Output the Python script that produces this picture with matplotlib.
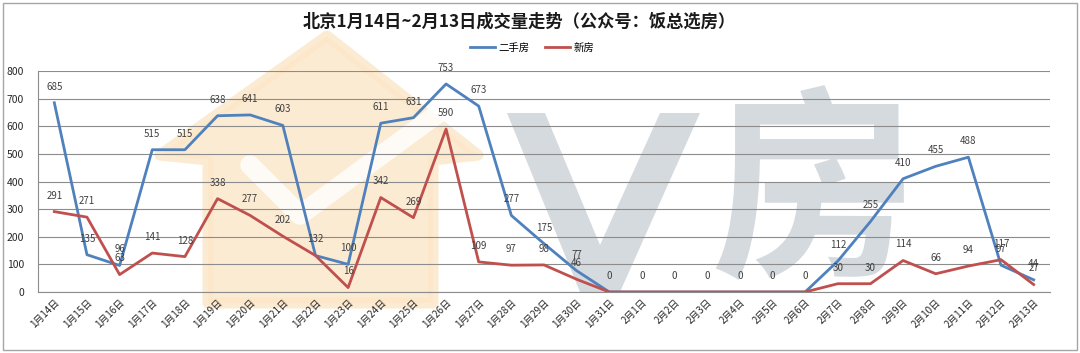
import matplotlib.pyplot as plt
from matplotlib.patches import Polygon, Rectangle
import numpy as np

plt.rcParams['font.family'] = ['Noto Sans CJK SC', 'DejaVu Sans']

# ── data ─────────────────────────────────────────────
dates = [f"1月{d}日" for d in range(14, 32)] + [f"2月{d}日" for d in range(1, 14)]
second_hand = [685, 135, 96, 515, 515, 638, 641, 603, 132, 100, 611, 631, 753, 673,
               277, 175, 77, 0, 0, 0, 0, 0, 0, 0, 112, 255, 410, 455, 488, 97, 44]
new_house = [291, 271, 63, 141, 128, 338, 277, 202, 132, 16, 342, 269, 590, 109,
             97, 98, 46, 0, 0, 0, 0, 0, 0, 0, 30, 30, 114, 66, 94, 117, 27]
y_ticks = [0, 100, 200, 300, 400, 500, 600, 700, 800]

BLUE = "#4F81BD"
RED = "#C0504D"

W, H = 1080, 353
fig = plt.figure(figsize=(W / 100, H / 100), dpi=100)

# ── background / watermark in pixel coords ───────────
bg = fig.add_axes([0, 0, 1, 1], zorder=-1)
bg.set_xlim(0, W)
bg.set_ylim(H, 0)
bg.axis("off")
bg.add_patch(Rectangle((3, 3), W - 6, H - 6, fill=False, edgecolor="#A6A6A6", lw=1.0))

house = [(160, 155), (327, 36), (478, 155), (433, 160), (433, 303), (208, 303), (208, 160)]
bg.add_patch(Polygon(house, closed=True, facecolor="#FCE7C8", edgecolor="#FCE7C8",
                     lw=8, joinstyle="round", alpha=0.8))
bg.plot([250, 300, 440], [165, 215, 112], color="white", lw=14, alpha=0.8,
        solid_capstyle="round", solid_joinstyle="round")

v_shape = [(507, 113), (545, 113), (600, 245), (660, 113), (700, 113), (620, 292), (580, 292)]
bg.add_patch(Polygon(v_shape, closed=True, facecolor="#CBD1D8", edgecolor="none", alpha=0.8))
bg.text(813, 200, "房", fontsize=148, fontweight="bold", color="#CBD1D8", alpha=0.8,
        ha="center", va="center")

# ── main chart ───────────────────────────────────────
ax = fig.add_axes([38 / W, (H - 292) / H, (1050 - 38) / W, (292 - 71) / H])
ax.set_facecolor("none")

x = np.arange(len(dates))
ax.plot(x, second_hand, color=BLUE, lw=2.0, label="二手房", zorder=3)
ax.plot(x, new_house, color=RED, lw=2.0, label="新房", zorder=3)

for xi, v in zip(x, second_hand):
    ax.annotate(str(v), (xi, v), xytext=(0, 8), textcoords="offset points",
                ha="center", va="bottom", fontsize=7, color="#404040", zorder=4)
for xi, v, b in zip(x, new_house, second_hand):
    if v == b:
        continue  # same spot as the blue label
    ax.annotate(str(v), (xi, v), xytext=(0, 8), textcoords="offset points",
                ha="center", va="bottom", fontsize=7, color="#404040", zorder=4)

ax.set_xlim(-0.5, len(dates) - 0.5)
ax.set_ylim(0, 800)
ax.set_yticks(y_ticks)
ax.grid(axis="y", color="#8C8C8C", lw=0.8)
ax.set_axisbelow(True)
for s in ["top", "right"]:
    ax.spines[s].set_visible(False)
ax.spines["left"].set_color("#8C8C8C")
ax.spines["bottom"].set_color("#8C8C8C")
ax.tick_params(axis="y", length=0, labelsize=7.5, labelcolor="#262626", pad=10)
ax.tick_params(axis="x", length=0, labelsize=7, labelcolor="#262626", pad=4)
ax.set_xticks(x)
ax.set_xticklabels(dates, rotation=45, ha="right", rotation_mode="anchor")

fig.text(519 / W, 1 - 22 / H, "北京1月14日~2月13日成交量走势（公众号：饭总选房）",
         ha="center", va="center", fontsize=12.4, fontweight="bold", color="#1A1A1A")
fig.legend(loc="center", bbox_to_anchor=(532 / W, 1 - 48 / H), ncol=2, frameon=False,
           fontsize=7.5, handlelength=2.4, columnspacing=1.5, handletextpad=0.3)

fig.savefig("out.png", dpi=100)
